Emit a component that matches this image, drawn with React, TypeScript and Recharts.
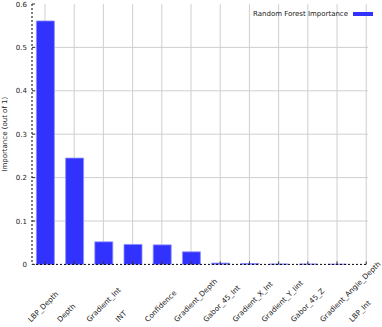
import React from 'react';
import { BarChart, Bar, XAxis, YAxis, CartesianGrid } from 'recharts';

const features = [
  'LBP_Depth', 'Depth', 'Gradient_Int', 'INT', 'Confidence', 'Gradient_Depth',
  'Gabor_45_Int', 'Gradient_X_Int', 'Gradient_Y_Iint', 'Gabor_45_Z',
  'Gradient_Angle_Depth', 'LBP_Int',
];
const importance = [0.561, 0.245, 0.052, 0.046, 0.045, 0.029, 0.003, 0.002, 0.001, 0.001, 0.0005, 0];
const yTicks = [0, 0.1, 0.2, 0.3, 0.4, 0.5, 0.6];
const seriesName = 'Random Forest Importance';

const data = features.map((name, i) => ({ idx: i, name, value: importance[i] }));
const xTicks = data.map(d => d.idx);

const FONT = '"DejaVu Sans", sans-serif';

// x labels: rotated 45deg, anchored at the lower-left end of the text
const XTick = (props: any) => {
  const { x, y, payload } = props;
  const name = features[payload.value] ?? '';
  const tx = x - 14;
  const ty = y + 58;
  return (
    <g>
      <line x1={x} y1={y - 3} x2={x} y2={y} stroke="#333" strokeWidth={1} />
      <text x={tx} y={ty} transform={`rotate(-45 ${tx} ${ty})`} textAnchor="start"
        fontSize={7.3} fontFamily={FONT} fill="#222">{name}</text>
    </g>
  );
};

const YTick = (props: any) => {
  const { x, y, payload } = props;
  const v = payload.value;
  return (
    <g>
      <line x1={x + 5} y1={y} x2={x + 8} y2={y} stroke="#333" strokeWidth={1} />
      <text x={x} y={y} dy={2.5} textAnchor="end" fontSize={7} fontFamily={FONT} fill="#222">
        {v === 0 ? '0' : String(v)}
      </text>
    </g>
  );
};

export default function App() {
  return (
    <div style={{ position: 'absolute', left: 0, top: 0, width: 382, height: 327, background: '#fff' }}>
      <BarChart width={382} height={327} data={data} margin={{ top: 4, right: 14, bottom: 61.6, left: 0 }}>
        <CartesianGrid stroke="#cfcfcf" strokeWidth={1}
          horizontalValues={[0.1, 0.2, 0.3, 0.4, 0.5]} verticalValues={xTicks} />
        <XAxis dataKey="idx" type="number" domain={[-0.445, 11.06]} ticks={xTicks}
          interval={0} height={1} tickSize={0} tickMargin={0} tick={<XTick />}
          axisLine={{ stroke: '#000', strokeDasharray: '2 2' }} allowDataOverflow />
        <YAxis width={32} domain={[0, 0.6]} ticks={yTicks} interval={0} tickSize={0} tickMargin={5}
          tick={<YTick />} axisLine={{ stroke: '#000', strokeDasharray: '2 2' }}
          label={(p: any) => {
            const vb = p.viewBox;
            const cx = vb.x + 7;
            const cy = vb.y + vb.height / 2;
            return (
              <text x={cx} y={cy} transform={`rotate(-90 ${cx} ${cy})`} textAnchor="middle"
                fontSize={7} fontFamily={FONT} fill="#222">Importance (out of 1)</text>
            );
          }} />
        <Bar dataKey="value" name={seriesName} barSize={18} fill="#3232ff"
          stroke="#8f8fff" strokeWidth={0.8} isAnimationActive={false} />
      </BarChart>
      <svg width={130} height={14} style={{ position: 'absolute', left: 251, top: 7 }}>
        <text x={2} y={9} fontSize={7} fontFamily={FONT} fill="#222">{seriesName}</text>
        <rect x={102} y={5} width={20} height={4} fill="#3232ff" />
      </svg>
    </div>
  );
}
